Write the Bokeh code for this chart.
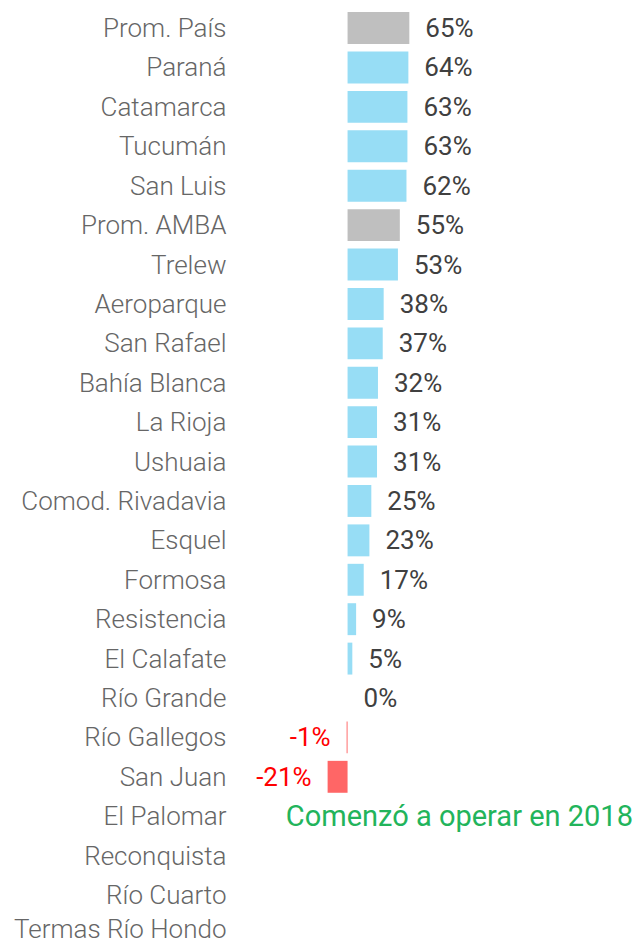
from bokeh.plotting import figure
from bokeh.models import Range1d, FixedTicker, ColumnDataSource
from bokeh.core.properties import value
from bokeh.embed import file_html
from bokeh.resources import INLINE

categories = ["Prom. País", "Paraná", "Catamarca", "Tucumán", "San Luis", "Prom. AMBA",
              "Trelew", "Aeroparque", "San Rafael", "Bahía Blanca", "La Rioja", "Ushuaia",
              "Comod. Rivadavia", "Esquel", "Formosa", "Resistencia", "El Calafate",
              "Río Grande", "Río Gallegos", "San Juan", "El Palomar", "Reconquista",
              "Río Cuarto", "Termas Río Hondo"]
values = [65, 64, 63, 63, 62, 55, 53, 38, 37, 32, 31, 31, 25, 23, 17, 9, 5, 0, -1, -21,
          None, None, None, None]
note_text = "Comenzó a operar en 2018"
note_row = "El Palomar"

BLUE = "#97DDF5"
GRAY = "#BFBFBF"
RED_BAR = "#FF6666"

rows, vals, colors = [], [], []
for i, (c, v) in enumerate(zip(categories, values)):
    if v is None:
        continue
    rows.append(i)
    vals.append(v)
    if c.startswith("Prom."):
        colors.append(GRAY)
    elif v < 0:
        colors.append(RED_BAR)
    else:
        colors.append(BLUE)

bars = ColumnDataSource(dict(y=rows, right=vals, color=colors))

pos = [(r, v) for r, v in zip(rows, vals) if v >= 0]
neg = [(r, v) for r, v in zip(rows, vals) if v < 0]
pos_src = ColumnDataSource(dict(y=[r for r, _ in pos], x=[v for _, v in pos],
                                t=[f"{v}%" for _, v in pos]))
neg_src = ColumnDataSource(dict(y=[r for r, _ in neg], x=[v for _, v in neg],
                                t=[f"{v}%" for _, v in neg]))

p = figure(width=634, height=943, output_backend="svg", toolbar_location=None,
           x_range=Range1d(-119, 302), y_range=Range1d(23.23, -0.70),
           min_border_left=234, min_border_right=0, min_border_top=0, min_border_bottom=0)
p.outline_line_color = None
p.grid.visible = False
p.xaxis.visible = False
p.background_fill_color = None
p.border_fill_color = None

p.hbar(y="y", left=0, right="right", height=0.81, color="color", source=bars, line_color=None)

p.text(x="x", y="y", text="t", source=pos_src, x_offset=16, text_align="left",
       text_baseline="middle", text_font=value("Roboto"), text_font_size="26px",
       text_color="#404040")
p.text(x="x", y="y", text="t", source=neg_src, x_offset=-16, text_align="right",
       text_baseline="middle", text_font=value("Roboto"), text_font_size="26px",
       text_color="#FF0000")

p.text(x=[-65], y=[categories.index(note_row)], text=[note_text], text_align="left",
       text_baseline="middle", text_font=value("Roboto"), text_font_size="29px",
       text_color="#22B45B")

ya = p.yaxis[0]
ya.ticker = FixedTicker(ticks=list(range(len(categories))))
ya.major_label_overrides = {i: c for i, c in enumerate(categories)}
ya.axis_line_color = None
ya.major_tick_line_color = None
ya.minor_tick_line_color = None
ya.major_tick_out = 0
ya.major_tick_in = 0
ya.major_label_standoff = 8
ya.major_label_text_font = "Roboto Light"
ya.major_label_text_font_size = "26px"
ya.major_label_text_color = "#666666"

open("out.html", "w").write(file_html(p, INLINE))
